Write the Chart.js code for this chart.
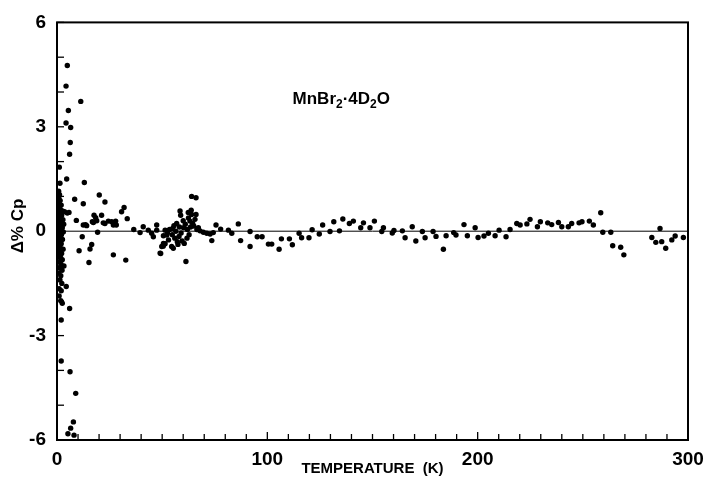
<!DOCTYPE html>
<html lang="en">
<head>
    <meta charset="UTF-8">
    <title>MnBr2·4D2O heat capacity deviation</title>
    <script src="https://cdn.jsdelivr.net/npm/chart.js"></script>
    <style>
        body { margin: 0; background: #ffffff; }
        .box { width: 706px; height: 478px; }
    </style>
</head>
<body>
    <div class="box">
        <canvas id="deviationChart"></canvas>
    </div>
    <script>
        // [temperature K, delta % Cp]
        const spikePoints = [
            [4.9, 4.76], [4.3, 4.17], [11.3, 3.73], [5.4, 3.47], [4.3, 3.11], [6.5, 2.98],
            [6.3, 2.55], [6.0, 2.21], [1.1, 1.84], [4.6, 1.50], [1.4, 1.38], [13.0, 1.40],
            [20.1, 1.04], [8.4, 0.92], [12.5, 0.79], [22.8, 0.84],
            [4.4, -1.59], [6.0, -2.22], [2.0, -2.55], [2.0, -3.73], [6.2, -4.04], [8.9, -4.66],
            [7.8, -5.48], [6.5, -5.66], [5.2, -5.82], [8.1, -5.86]
        ];

        const lowTempPoints = [
            [0.8, 1.15], [1.2, 1.05], [0.9, 0.95], [1.5, 0.88], [1.0, 0.80], [2.0, 0.75],
            [1.3, 0.70], [0.7, 0.62], [1.8, 0.60], [2.6, 0.58], [3.6, 0.56], [4.9, 0.52],
            [5.7, 0.54], [1.1, 0.50], [2.2, 0.45], [0.6, 0.40], [1.6, 0.36], [2.8, 0.33],
            [0.9, 0.28], [1.9, 0.22], [3.2, 0.20], [1.2, 0.15], [2.5, 0.10], [0.7, 0.06],
            [1.7, 0.02], [3.0, -0.02], [1.0, -0.06], [2.1, -0.10], [0.8, -0.15], [1.5, -0.20],
            [2.6, -0.24], [1.1, -0.30], [2.0, -0.36], [0.9, -0.42], [1.6, -0.48], [2.9, -0.52],
            [1.2, -0.58], [2.2, -0.64], [0.8, -0.70], [1.7, -0.76], [2.5, -0.82], [1.0, -0.88],
            [1.9, -0.95], [3.3, -1.00], [1.3, -1.05], [2.4, -1.12], [0.9, -1.20], [1.8, -1.28],
            [1.4, -1.40], [2.3, -1.50], [1.0, -1.65], [2.0, -1.71], [1.0, -1.86], [1.8, -2.00],
            [2.5, -2.07],
            [9.2, 0.31], [13.6, 0.19], [12.5, 0.18], [14.1, 0.16], [16.8, 0.27], [17.6, 0.46],
            [21.2, 0.46], [17.3, 0.25], [18.9, 0.30], [18.4, 0.39], [22.0, 0.24], [22.8, 0.22],
            [24.4, 0.29], [26.0, 0.27], [26.8, 0.18], [27.9, 0.29], [28.2, 0.18], [31.9, 0.68],
            [30.7, 0.56], [33.4, 0.36], [19.3, -0.03], [36.5, 0.05], [39.5, -0.04], [41.0, 0.13],
            [43.4, 0.03], [45.0, -0.06], [45.8, -0.16], [47.4, 0.18], [47.4, 0.03], [12.0, -0.16],
            [16.5, -0.38], [15.7, -0.51], [10.5, -0.56], [26.8, -0.68], [15.2, -0.90], [32.7, -0.83],
            [49.0, -0.63], [50.5, -0.43], [51.4, -0.36]
        ];

        const clusterPoints = [
            [58.5, 0.58], [58.8, 0.46], [64.0, 1.00], [66.1, 0.96], [62.4, 0.54], [64.0, 0.48],
            [66.1, 0.48], [63.2, 0.29], [65.6, 0.34], [64.5, 0.22], [56.9, 0.22], [55.6, 0.16],
            [51.4, 0.03], [50.6, -0.13], [52.2, -0.11], [54.5, -0.44], [55.3, -0.49], [50.6, -0.35],
            [49.8, -0.44], [49.3, -0.64], [61.3, -0.87],
            [53.5, 0.05], [54.8, -0.10], [56.0, -0.20], [57.2, -0.30], [58.0, -0.15], [59.0, -0.05],
            [60.2, 0.10], [61.0, 0.20], [62.0, 0.05], [62.8, -0.10], [63.5, 0.12], [57.5, -0.38],
            [59.5, -0.28], [60.5, -0.35], [61.8, -0.20], [56.5, 0.00], [55.0, 0.08], [58.2, 0.12],
            [60.0, 0.30], [62.5, 0.38], [63.8, 0.60], [65.0, 0.15], [66.5, 0.05], [67.2, 0.10],
            [53.0, -0.25], [52.5, -0.05]
        ];

        const highTempPoints = [
            [68.0, 0.01], [69.6, -0.03], [71.2, -0.06], [72.8, -0.08], [74.3, -0.04], [73.6, -0.27],
            [75.6, 0.18], [77.8, 0.06], [81.5, 0.03], [83.1, -0.06], [86.2, 0.21], [87.3, -0.27],
            [91.8, -0.01], [91.8, -0.44], [95.2, -0.16], [97.5, -0.16],
            [100.5, -0.37], [102.1, -0.37], [105.6, -0.52], [106.7, -0.22], [110.5, -0.22], [111.9, -0.39],
            [115.1, -0.06], [116.3, -0.19], [119.8, -0.19], [121.3, 0.04], [124.7, -0.08], [126.3, 0.18],
            [129.8, -0.01], [131.6, 0.27], [134.3, 0.01], [135.9, 0.35], [139.0, 0.22], [140.9, 0.29],
            [144.4, 0.10], [145.7, 0.24], [148.8, 0.10], [150.9, 0.29], [154.4, -0.01], [155.2, 0.10],
            [159.4, -0.05], [160.2, 0.02], [164.2, 0.01], [165.5, -0.19], [168.9, 0.13], [170.6, -0.28],
            [173.7, -0.01], [175.0, -0.19], [178.8, -0.01], [180.2, -0.15], [183.7, -0.52], [185.0, -0.13],
            [188.6, -0.04], [189.7, -0.11], [193.5, 0.19], [195.1, -0.13], [198.8, 0.10], [200.2, -0.18],
            [203.0, -0.14], [205.1, -0.06], [208.3, -0.13], [210.2, 0.03], [213.5, -0.16], [215.4, 0.05],
            [218.6, 0.22], [220.2, 0.18], [223.4, 0.21], [224.9, 0.34], [228.4, 0.13], [229.8, 0.27],
            [233.3, 0.24], [235.2, 0.19], [238.4, 0.25], [240.0, 0.13], [243.1, 0.13], [244.7, 0.22],
            [248.2, 0.24], [249.6, 0.27], [253.1, 0.29], [255.0, 0.18], [258.5, 0.53], [259.5, -0.03],
            [263.3, -0.03], [264.2, -0.42], [268.0, -0.46], [269.5, -0.68],
            [282.8, -0.18], [284.7, -0.32], [286.7, 0.08], [287.5, -0.30], [289.4, -0.49], [292.3, -0.25],
            [293.9, -0.14], [297.8, -0.18]
        ];

        const xTickLabels = [0, 100, 200, 300];
        const yTickLabels = [-6, -3, 0, 3, 6];
        const zeroLine = [[0, 0], [300, 0]];
        const compoundLabel = { x: 112, y: 3.65 };

        const allPoints = [...spikePoints, ...lowTempPoints, ...clusterPoints, ...highTempPoints]
            .map(p => ({ x: p[0], y: p[1] }));

        const fontFamily = "'Liberation Sans', Arial, sans-serif";

        // frame, inward tick marks, y title and the compound label
        const framePlugin = {
            id: 'frame',
            afterDraw(chart) {
                const { ctx, chartArea: a, scales } = chart;
                ctx.save();
                ctx.strokeStyle = '#000';
                ctx.lineWidth = 2;
                ctx.strokeRect(a.left, a.top, a.right - a.left, a.bottom - a.top);

                ctx.lineWidth = 1.3;
                for (let t = 0; t <= 300; t += 10) {
                    const px = scales.x.getPixelForValue(t);
                    ctx.beginPath();
                    ctx.moveTo(px, a.bottom);
                    ctx.lineTo(px, a.bottom - (t % 100 === 0 ? 8 : 6));
                    ctx.stroke();
                }
                for (let v = -6; v <= 6; v += 1) {
                    const py = scales.y.getPixelForValue(v);
                    ctx.beginPath();
                    ctx.moveTo(a.left, py);
                    ctx.lineTo(a.left + 7, py);
                    ctx.stroke();
                }

                // y title
                ctx.fillStyle = '#000';
                ctx.translate(18, 226);
                ctx.rotate(-Math.PI / 2);
                ctx.font = 'bold 17px ' + fontFamily;
                ctx.textAlign = 'center';
                ctx.textBaseline = 'middle';
                ctx.fillText('Δ% Cp', 0, 0);
                ctx.restore();

                // MnBr2·4D2O
                ctx.save();
                ctx.fillStyle = '#000';
                ctx.textBaseline = 'alphabetic';
                const parts = [['MnBr', false], ['2', true], ['·4D', false], ['2', true], ['O', false]];
                let x = scales.x.getPixelForValue(compoundLabel.x);
                const y = scales.y.getPixelForValue(compoundLabel.y);
                parts.forEach(([txt, sub]) => {
                    ctx.font = (sub ? 'bold 12px ' : 'bold 17px ') + fontFamily;
                    ctx.fillText(txt, x, sub ? y + 4 : y);
                    x += ctx.measureText(txt).width;
                });
                ctx.restore();
            }
        };

        new Chart(document.getElementById('deviationChart'), {
            type: 'scatter',
            data: {
                datasets: [
                    {
                        type: 'line',
                        data: zeroLine.map(p => ({ x: p[0], y: p[1] })),
                        borderColor: '#000',
                        borderWidth: 1,
                        pointRadius: 0
                    },
                    {
                        data: allPoints,
                        backgroundColor: '#000',
                        borderColor: '#000',
                        pointRadius: 2.7,
                        pointBorderWidth: 0
                    }
                ]
            },
            options: {
                responsive: true,
                maintainAspectRatio: false,
                animation: false,
                layout: { padding: { top: 19, right: 18, left: 0, bottom: 0 } },
                plugins: {
                    legend: { display: false },
                    tooltip: { enabled: false }
                },
                scales: {
                    x: {
                        type: 'linear',
                        min: 0,
                        max: 300,
                        afterFit: s => {
                            s.height = 38;
                            s.paddingLeft = 0;
                            s.paddingRight = 0;
                        },
                        grid: { display: false, drawTicks: false },
                        border: { display: false },
                        ticks: {
                            stepSize: 10,
                            autoSkip: false,
                            maxRotation: 0,
                            padding: 8,
                            color: '#000',
                            font: { family: fontFamily, size: 19, weight: 'bold' },
                            callback: v => xTickLabels.includes(v) ? String(v) : ''
                        },
                        title: {
                            display: true,
                            text: 'TEMPERATURE  (K)',
                            color: '#000',
                            padding: { top: -5, bottom: 0 },
                            font: { family: fontFamily, size: 15, weight: 'bold' }
                        }
                    },
                    y: {
                        min: -6,
                        max: 6,
                        afterFit: s => { s.width = 57; },
                        grid: { display: false, drawTicks: false },
                        border: { display: false },
                        ticks: {
                            stepSize: 1,
                            autoSkip: false,
                            padding: 11,
                            color: '#000',
                            font: { family: fontFamily, size: 19, weight: 'bold' },
                            callback: v => yTickLabels.includes(v) ? String(v) : ''
                        }
                    }
                }
            },
            plugins: [framePlugin]
        });
    </script>
</body>
</html>
